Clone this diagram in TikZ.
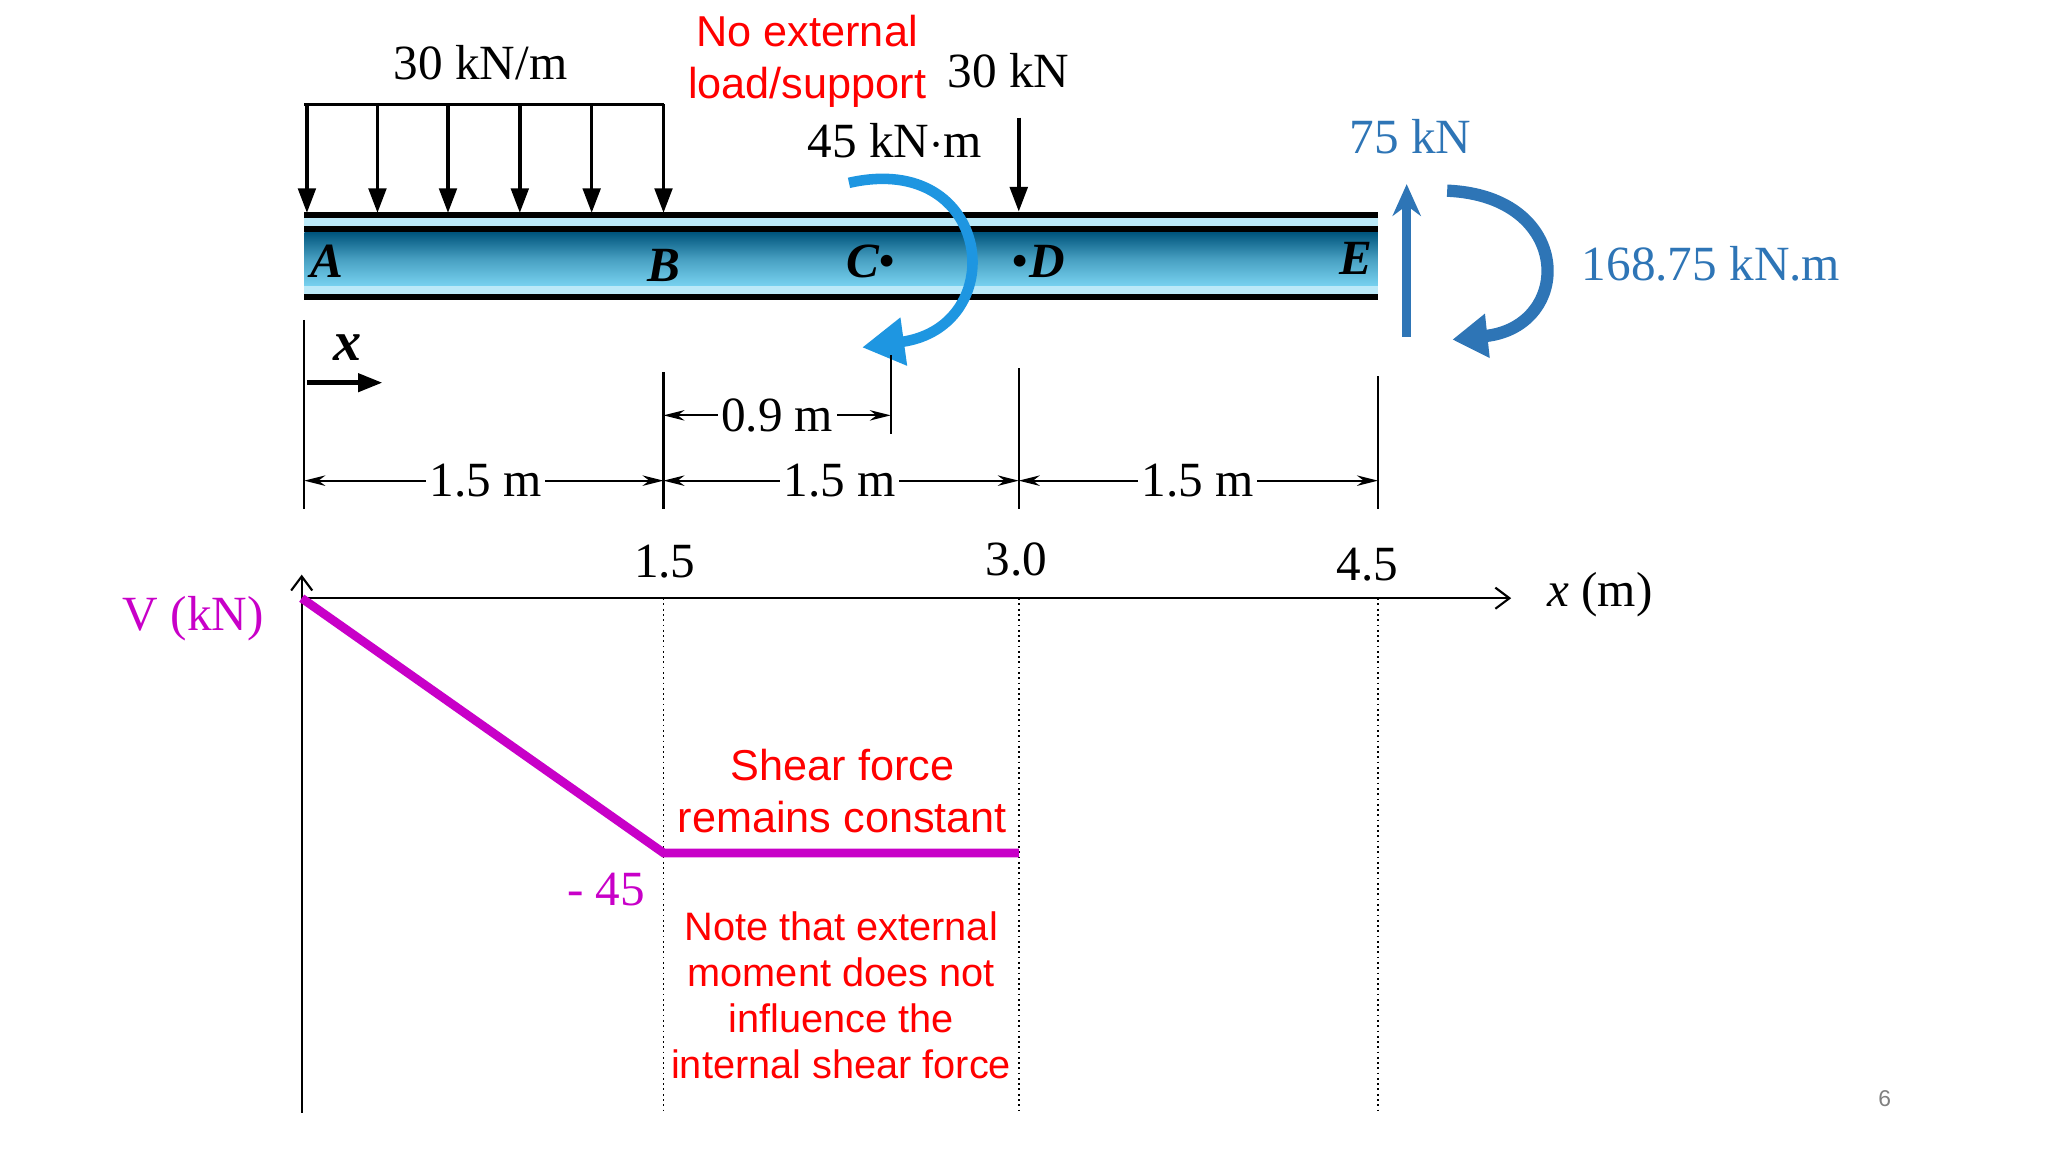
\documentclass[tikz,border=0pt]{standalone}
\usepackage{fontspec}
\setmainfont{Liberation Serif}
\newfontfamily\calfnt{Liberation Sans}
\usetikzlibrary{arrows.meta}
\definecolor{mblue}{RGB}{46,117,182}
\definecolor{cblue}{RGB}{30,150,225}
\definecolor{mag}{RGB}{200,0,200}
\definecolor{dteal}{RGB}{0,85,125}
\definecolor{lteal}{RGB}{120,210,240}
\tikzset{
 lbl/.style={font=\fontsize{14}{16}\selectfont},
 red/.style={text=red,font=\calfnt\fontsize{12.3}{14.8}\selectfont,align=center},
 pt/.style={font=\fontsize{14}{16}\selectfont\bfseries\itshape},
 blk/.style={-{Triangle[length=7pt,width=5pt]},line width=1pt},
 dim/.style={{Stealth[length=6pt,width=3pt]}-{Stealth[length=6pt,width=3pt]},line width=0.5pt},
 ext/.style={line width=0.6pt},
 dots/.style={densely dotted,line width=0.5pt},
}
\begin{document}
\begin{tikzpicture}[x=0.01306cm,y=-0.01306cm]
\useasboundingbox (0,0) rectangle (1568,882);
% beam
\fill[black] (233,162) rectangle (1055,167);
\fill[lteal!50] (233,167) rectangle (1055,173);
\fill[black] (233,173) rectangle (1055,178);
\shade[top color=dteal,bottom color=lteal,middle color=lteal!60!dteal] (233,178) rectangle (1055,219);
\fill[lteal!50] (233,219) rectangle (1055,225);
\fill[black] (233,225) rectangle (1055,230);
\node[pt] (A) at (250,200) {A};
\node[pt] (B) at (508,203) {B};
\node[pt] (C) at (667,200) {C{\normalfont\textbullet}};
\node[pt] (D) at (795,200) {{\normalfont\textbullet}D};
\node[pt] (E) at (1038,198) {E};
% distributed load
\draw[line width=1pt] (233,80) -- (508,80);
\foreach \x in {235,289,343,398,453,508}{\draw[blk] (\x,80) -- (\x,163);}
\node[lbl] (w) at (368,48) {30 kN/m};
\node[red] (ne) at (618,47) {No external\\load/support};
\node[lbl] (P) at (772,54) {30 kN};
\coordinate (Pt) at (780,90); \coordinate (Pb) at (780,162);
\draw[blk] (Pt) -- (Pb);
\node[lbl] (M) at (685,108) {45 kN$\cdot$m};
% moment at C
\coordinate (m1) at (650,140); \coordinate (m2) at (660,266);
\draw[cblue,line width=3pt,-{Triangle[length=12pt,width=13pt]}] (m1) .. controls (760,115) and (775,250) .. (m2);
% x arrow
\draw[ext] (233,245) -- (233,390);
\node[pt,font=\fontsize{16}{18}\selectfont\bfseries\itshape] (xl) at (266,266) {x};
\draw[blk,line width=1.5pt] (235,293) -- (293,293);
% dimensions
\draw[ext] (508,285) -- (508,390);
\draw[ext] (682,272) -- (682,332);
\draw[ext] (780,282) -- (780,390);
\draw[ext] (1055,288) -- (1055,390);
\draw[dim] (508,318) -- (682,318);
\node[lbl,fill=white,inner sep=1pt] (d09) at (595,318) {0.9 m};
\draw[dim] (233,368) -- (508,368);
\node[lbl,fill=white,inner sep=1pt] (d1) at (372,368) {1.5 m};
\draw[dim] (508,368) -- (780,368);
\node[lbl,fill=white,inner sep=1pt] (d2) at (643,368) {1.5 m};
\draw[dim] (780,368) -- (1055,368);
\node[lbl,fill=white,inner sep=1pt] (d3) at (917,368) {1.5 m};
% reactions at E
\node[lbl,text=mblue] (R) at (1080,105) {75 kN};
\draw[mblue,line width=2.5pt,-{Stealth[length=9pt,width=8pt]}] (1077,258) -- (1077,141);
\draw[mblue,line width=3.5pt,-{Triangle[length=10pt,width=12pt]}] (1108,146) .. controls (1205,150) and (1205,250) .. (1112,260);
\node[lbl,text=mblue] (RM) at (1310,202) {168.75 kN.m};
% axes
\coordinate (O) at (231,458);
\draw[line width=0.6pt,-{Straight Barb[length=4pt,width=6pt]}] (231,458) -- (1157,458);
\draw[line width=0.6pt,-{Straight Barb[length=4pt,width=6pt]}] (231,852) -- (231,440);
\node[lbl] (t1) at (509,430) {1.5};
\node[lbl] (t2) at (778,428) {3.0};
\node[lbl] (t3) at (1047,432) {4.5};
\node[lbl] (xm) at (1225,455) {\textit{x} (m)};
\node[lbl,text=mag] (V) at (148,474) {V (kN)};
\draw[dots] (508,458) -- (508,852);
\draw[dots] (780,458) -- (780,852);
\draw[dots] (1055,458) -- (1055,852);
\draw[mag,line width=2.5pt] (231,458) -- (508,653) -- (780,653);
\node[lbl,text=mag] (v45) at (464,681) {- 45};
\node[red] (sf) at (645,606) {Shear force\\remains constant};
\node[red,font=\calfnt\fontsize{11.3}{13.1}\selectfont] (nt) at (644,762) {Note that external\\moment does not\\influence the\\internal shear force};
\node[text=gray,font=\calfnt\fontsize{6.5}{8}\selectfont] (pg) at (1443,841) {6};
\end{tikzpicture}
\end{document}
